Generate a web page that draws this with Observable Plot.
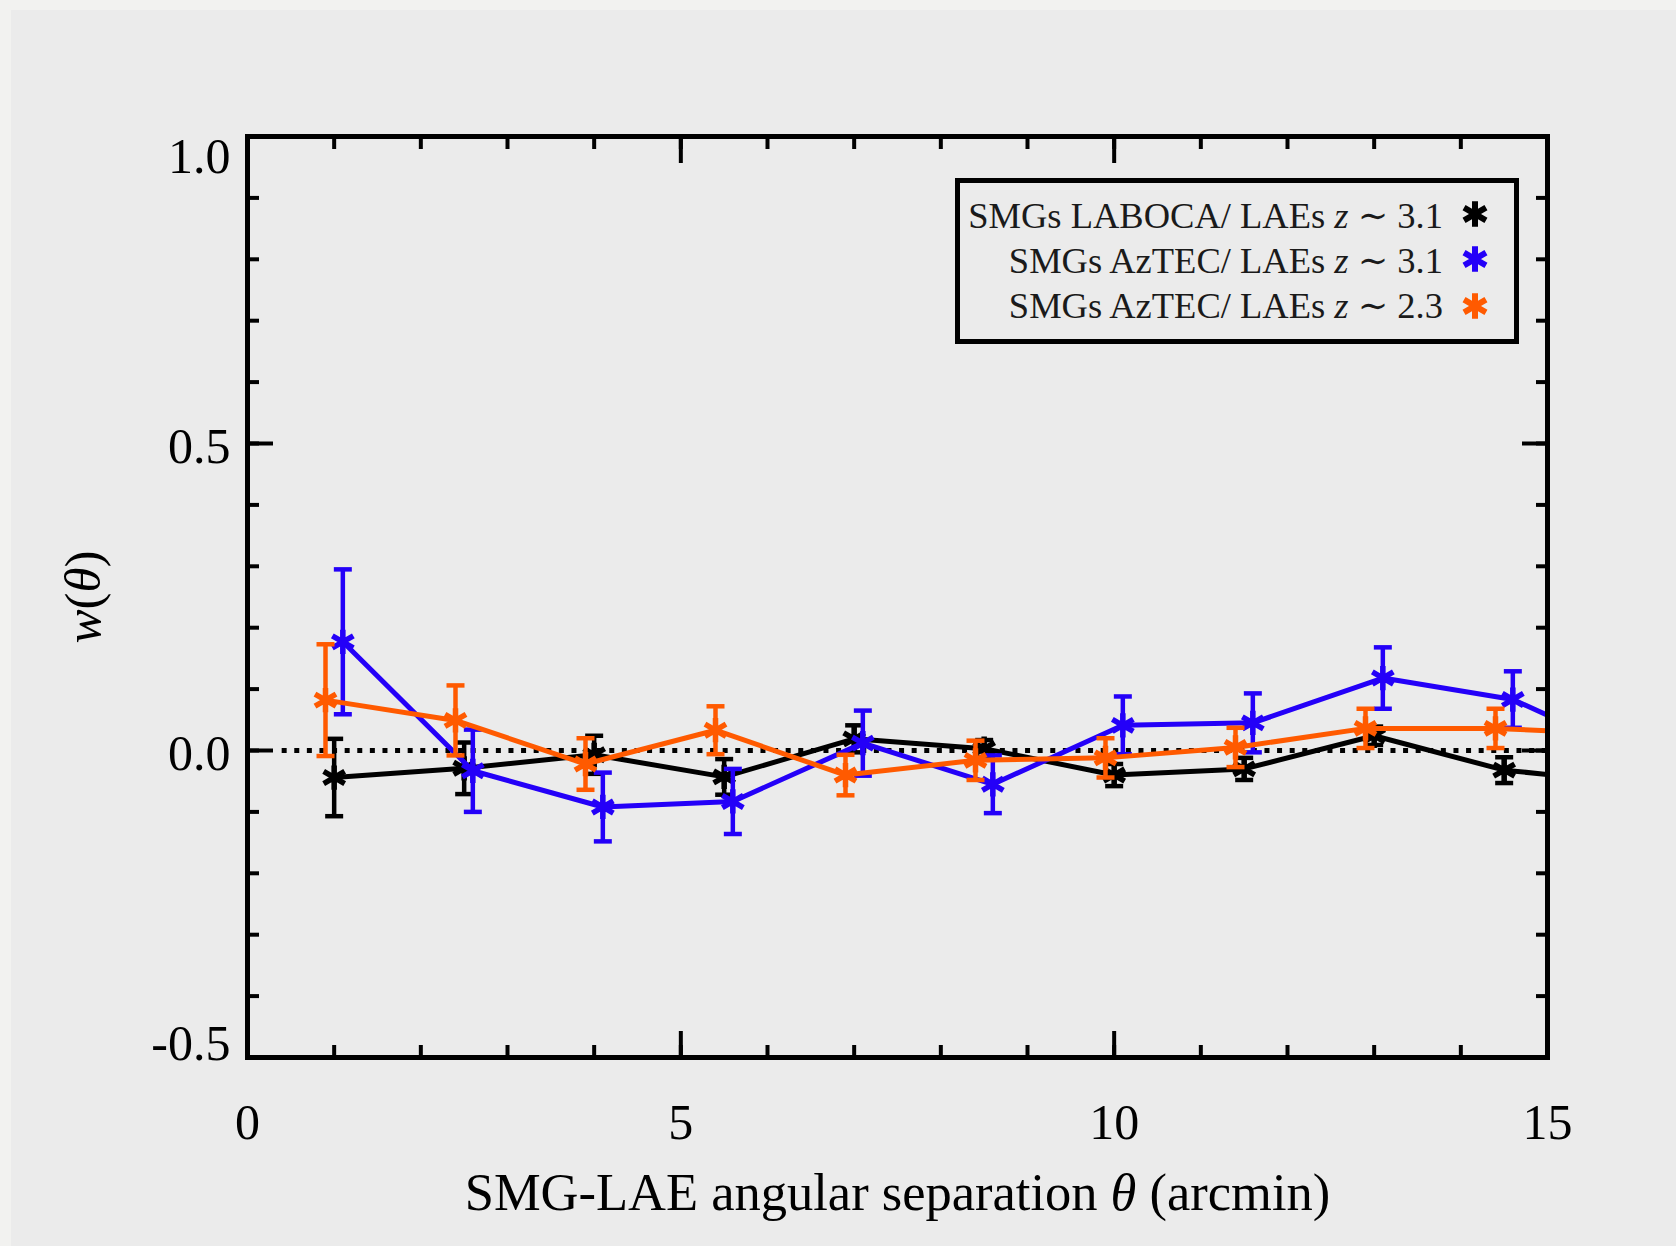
<!DOCTYPE html>
<html>
<head>
<meta charset="utf-8">
<script src="https://cdn.jsdelivr.net/npm/d3@7"></script>
<script src="https://cdn.jsdelivr.net/npm/@observablehq/plot@0.6"></script>
<style>
  html, body { margin: 0; padding: 0; background: #ebebeb; }
  #wrap { position: relative; width: 1676px; height: 1246px; overflow: hidden; }
  .strip { position: absolute; background: #f2f2f0; }
  #chart, #legend { position: absolute; }
  #chart { left: 0; top: 0; }
</style>
</head>
<body>
<div id="wrap">
  <div class="strip" style="left:0;top:0;width:11px;height:1246px"></div>
  <div class="strip" style="left:0;top:0;width:1676px;height:10px"></div>
  <div id="chart"></div>
  <svg id="legend"></svg>
</div>
<script>
// ---------------- data ----------------
const seriesNames = [
  "SMGs LABOCA/ LAEs z \u223C 3.1",
  "SMGs AzTEC/ LAEs z \u223C 3.1",
  "SMGs AzTEC/ LAEs z \u223C 2.3"
];
const seriesColors = ["#000000", "#2400f8", "#ff5a00"];

const blackX   = [1.0, 2.5, 4.0, 5.5, 7.0, 8.5, 10.0, 11.5, 13.0, 14.5, 16.0];
const blackY   = [-0.044, -0.029, -0.007, -0.043, 0.019, 0.003, -0.040, -0.030, 0.024, -0.032, -0.053];
const blackErr = [0.063, 0.042, 0.031, 0.029, 0.022, 0.014, 0.018, 0.018, 0.015, 0.021, 0.020];

const blueX   = [1.1, 2.6, 4.1, 5.6, 7.1, 8.6, 10.1, 11.6, 13.1, 14.6, 16.1];
const blueY   = [0.177, -0.033, -0.092, -0.083, 0.012, -0.055, 0.041, 0.045, 0.118, 0.083, -0.013];
const blueErr = [0.118, 0.067, 0.056, 0.053, 0.053, 0.047, 0.047, 0.048, 0.050, 0.046, 0.045];

const orangeX   = [0.9, 2.4, 3.9, 5.4, 6.9, 8.4, 9.9, 11.4, 12.9, 14.4, 15.9];
const orangeY   = [0.082, 0.049, -0.022, 0.033, -0.040, -0.016, -0.012, 0.005, 0.036, 0.036, 0.026];
const orangeErr = [0.091, 0.057, 0.042, 0.039, 0.033, 0.032, 0.032, 0.032, 0.032, 0.032, 0.032];

const xMajorTicks = [0, 5, 10, 15];
const xMinorTicks = [0, 1, 2, 3, 4, 5, 6, 7, 8, 9, 10, 11, 12, 13, 14, 15];
const yMajorTicks = [-0.5, 0.0, 0.5, 1.0];
const yMinorTicks = [-0.5, -0.4, -0.3, -0.2, -0.1, 0.0, 0.1, 0.2, 0.3, 0.4, 0.5, 0.6, 0.7, 0.8, 0.9, 1.0];
const xDomain = [0, 15];
const yDomain = [-0.5, 1.0];
const zeroLineX = [0.4, 15];

const xLabel = "SMG-LAE angular separation \u03B8 (arcmin)";
const yLabel = "w(\u03B8)";

// ---------------- build ----------------
const raw = [
  [blackX, blackY, blackErr],
  [blueX, blueY, blueErr],
  [orangeX, orangeY, orangeErr]
];
const series = raw.map(([xs, ys, es], i) =>
  xs.map((x, j) => ({x, y: ys[j], lo: ys[j] - es[j], hi: ys[j] + es[j], s: i}))
);

const FONT = "'Liberation Serif', 'DejaVu Serif', serif";
const capSymbol = { draw(ctx) { ctx.moveTo(-9, 0); ctx.lineTo(9, 0); } };

const seriesMarks = series.flatMap((data, i) => [
  Plot.ruleX(data, {x: "x", y1: "lo", y2: "hi", stroke: seriesColors[i], strokeWidth: 4.5, clip: true}),
  Plot.dot(data, {x: "x", y: "hi", symbol: capSymbol, stroke: seriesColors[i], strokeWidth: 4.5, clip: true}),
  Plot.dot(data, {x: "x", y: "lo", symbol: capSymbol, stroke: seriesColors[i], strokeWidth: 4.5, clip: true}),
  Plot.line(data, {x: "x", y: "y", stroke: seriesColors[i], strokeWidth: 5, clip: true}),
  Plot.dot(data, {x: "x", y: "y", symbol: "asterisk", r: 11.5, stroke: seriesColors[i], strokeWidth: 5.5, clip: true})
]);

const empty = () => "";
const chart = Plot.plot({
  width: 1676,
  height: 1246,
  marginLeft: 247,
  marginRight: 129,
  marginTop: 136,
  marginBottom: 189,
  style: {background: "transparent", color: "black", fontFamily: FONT},
  x: {domain: xDomain},
  y: {domain: yDomain},
  marks: [
    Plot.ruleY([0], {x1: zeroLineX[0], x2: zeroLineX[1], stroke: "black", strokeWidth: 5, strokeDasharray: "5 7.6"}),
    ...seriesMarks,
    // minor ticks (inward, all four sides)
    Plot.axisX({anchor: "bottom", ticks: xMinorTicks, tickSize: -12, tickFormat: empty, label: null, strokeWidth: 4}),
    Plot.axisX({anchor: "top", ticks: xMinorTicks, tickSize: -12, tickFormat: empty, label: null, strokeWidth: 4}),
    Plot.axisY({anchor: "left", ticks: yMinorTicks, tickSize: -12, tickFormat: empty, label: null, strokeWidth: 4}),
    Plot.axisY({anchor: "right", ticks: yMinorTicks, tickSize: -12, tickFormat: empty, label: null, strokeWidth: 4}),
    // major ticks
    Plot.axisX({anchor: "bottom", ticks: xMajorTicks, tickSize: -26, tickFormat: empty, label: null, strokeWidth: 4}),
    Plot.axisX({anchor: "top", ticks: xMajorTicks, tickSize: -26, tickFormat: empty, label: null, strokeWidth: 4}),
    Plot.axisY({anchor: "left", ticks: yMajorTicks, tickSize: -26, tickFormat: empty, label: null, strokeWidth: 4}),
    Plot.axisY({anchor: "right", ticks: yMajorTicks, tickSize: -26, tickFormat: empty, label: null, strokeWidth: 4}),
    // tick labels
    Plot.axisX({anchor: "bottom", ticks: xMajorTicks, tickSize: 0, tickPadding: 46, fontSize: 50, label: null, tickFormat: d => String(d)}),
    Plot.axisY({anchor: "left", ticks: yMajorTicks.slice(1, 3), tickSize: 0, tickPadding: 17, fontSize: 50, label: null, dy: 3, tickFormat: d => d.toFixed(1)}),
    Plot.axisY({anchor: "left", ticks: yMajorTicks.slice(3), tickSize: 0, tickPadding: 17, fontSize: 50, label: null, dy: 20, tickFormat: d => d.toFixed(1)}),
    Plot.axisY({anchor: "left", ticks: yMajorTicks.slice(0, 1), tickSize: 0, tickPadding: 17, fontSize: 50, label: null, dy: -14, tickFormat: d => d.toFixed(1)}),
    Plot.frame({stroke: "black", strokeWidth: 5}),
    // axis titles
    Plot.text([xLabel], {frameAnchor: "bottom", textAnchor: "middle", dy: 152, fontSize: 52.5, fill: "black"}),
    Plot.text([yLabel], {frameAnchor: "left", textAnchor: "middle", dx: -164, rotate: -90, fontSize: 51, fill: "black"})
  ]
});
document.getElementById("chart").appendChild(chart);

// italicise math symbols (matches of a regex) in text elements
function italicise(root, re) {
  root.querySelectorAll("text").forEach(t => {
    if (t.children.length) return;
    const s = t.textContent;
    const parts = [];
    let last = 0, m;
    re.lastIndex = 0;
    while ((m = re.exec(s)) !== null) {
      if (m.index > last) parts.push([s.slice(last, m.index), false]);
      parts.push([m[0], true]);
      last = m.index + m[0].length;
    }
    if (!parts.length) return;
    if (last < s.length) parts.push([s.slice(last), false]);
    t.textContent = "";
    parts.forEach(([txt, it]) => {
      const ts = document.createElementNS("http://www.w3.org/2000/svg", "tspan");
      ts.textContent = txt;
      if (it) ts.setAttribute("font-style", "italic");
      t.appendChild(ts);
    });
  });
}
italicise(chart, /[w\u03B8]/g);

// ---------------- legend ----------------
const legend = d3.select("#legend")
  .attr("width", 564).attr("height", 166)
  .style("left", "955px").style("top", "178px");
legend.append("rect")
  .attr("x", 2.5).attr("y", 2.5).attr("width", 559).attr("height", 161)
  .attr("fill", "none").attr("stroke", "black").attr("stroke-width", 5);
const rowBase = [50, 95, 140];
const rowMark = [36, 81, 128];
const starPath = d3.symbol(d3.symbolAsterisk, Math.PI * 12 * 12)();
seriesNames.forEach((name, i) => {
  const [pre, post] = name.split(" z ");
  const t = legend.append("text")
    .attr("x", 488).attr("y", rowBase[i])
    .attr("text-anchor", "end")
    .attr("font-family", FONT).attr("font-size", 36.5).attr("fill", "#1a1a1a");
  t.append("tspan").text(pre + " ");
  t.append("tspan").attr("font-style", "italic").style("font-style", "italic").text("z");
  t.append("tspan").text(" " + post);
  legend.append("path")
    .attr("d", starPath)
    .attr("transform", `translate(520,${rowMark[i]})`)
    .attr("fill", "none").attr("stroke", seriesColors[i]).attr("stroke-width", 6);
});
</script>
</body>
</html>
